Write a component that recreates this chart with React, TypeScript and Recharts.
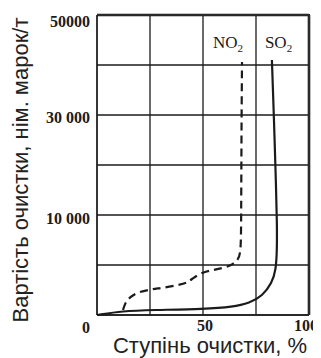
import React from 'react';
import { LineChart, Line, XAxis, YAxis, CartesianGrid, LabelList, Label, ReferenceLine } from 'recharts';

// Degree of cleaning (%) on the x axis
const xTicks = [0, 25, 50, 75, 100];
const xTickLabels: Record<number, string> = { 50: '50', 100: '100' };

// Cost axis: labelled cost values sit on every second grid line
const yBreaks = [0, 10000, 30000, 50000];
const yTickLabels = ['0', '10 000', '30 000', '50000'];
const gridRows = [0, 1, 2, 3, 4, 5, 6];

// SO2 curve (solid)
const so2Degree = [0, 12, 26, 51, 64, 72, 78, 82.5, 84.4, 84.9, 84.9, 84.5, 83.5, 82.5];
const so2Cost = [0, 400, 500, 600, 800, 1200, 1900, 3200, 4500, 6500, 9200, 15000, 29000, 41000];

// NO2 curve (dashed)
const no2Degree = [12.3, 13.2, 15.6, 19.3, 26.4, 30.7, 38.2, 42.5, 45.3, 50, 54.7, 59.4, 63.7, 66.5, 67.9, 68.0, 68.1, 68.2, 68.4];
const no2Cost = [500, 1200, 1800, 2300, 2600, 2700, 3000, 3200, 3700, 4300, 4500, 4700, 5000, 5500, 6200, 10000, 20000, 30000, 40600];

const seriesNames = { so2: 'SO', no2: 'NO' };

// map a cost onto the axis (each labelled interval spans two grid rows)
function toAxis(cost: number): number {
  for (let i = 0; i < yBreaks.length - 1; i++) {
    if (cost <= yBreaks[i + 1] || i === yBreaks.length - 2) {
      return 2 * i + (2 * (cost - yBreaks[i])) / (yBreaks[i + 1] - yBreaks[i]);
    }
  }
  return 0;
}

const so2Data = so2Degree.map((x, i) => ({ x, y: toAxis(so2Cost[i]) }));
const no2Data = no2Degree.map((x, i) => ({ x, y: toAxis(no2Cost[i]) }));

const INK = '#1b1b1b';
const serif = '"Liberation Serif", "Times New Roman", serif';
const sans = '"Liberation Sans", Arial, sans-serif';
const frameLine = { stroke: INK, strokeWidth: 1.3 };

const CHART_W = 313;
const CHART_H = 350;
const MARGIN = { top: 7, right: 12, bottom: 0, left: 0 };
const Y_AXIS_W = 89;
const X_AXIS_H = 43;

const yLabelShift: Record<number, number> = { 0: 12, 2: 3, 4: 2, 6: 6 };
const xLabelShift: Record<number, number> = { 50: 2, 100: -3 };

function YTick(props: any) {
  const { x, y, payload } = props;
  const v = payload.value;
  if (v % 2 !== 0) return <g />;
  return (
    <text x={x} y={y + yLabelShift[v]} dy="0.36em" textAnchor="end" fontFamily={serif} fontWeight="bold" fontSize={16} fill={INK}>
      {yTickLabels[v / 2]}
    </text>
  );
}

function XTick(props: any) {
  const { x, y, payload } = props;
  const label = xTickLabels[payload.value];
  if (!label) return <g />;
  return (
    <text x={x + (xLabelShift[payload.value] || 0)} y={y} dy={16} textAnchor="middle" fontFamily={serif} fontWeight="bold" fontSize={16} fill={INK}>
      {label}
    </text>
  );
}

function makeSeriesLabel(name: string, last: number, anchor: 'start' | 'end', dx: number, dy: number) {
  return (props: any) => {
    if (props.index !== last) return <g />;
    return (
      <text x={props.x + dx} y={props.y + dy} textAnchor={anchor} fontFamily={serif} fontSize={17} fill={INK}>
        {name}
        <tspan fontSize={11} dy={4}>2</tspan>
      </text>
    );
  };
}

export default function App() {
  const plotLeft = MARGIN.left + Y_AXIS_W;
  const plotTop = MARGIN.top;
  const plotW = CHART_W - plotLeft - MARGIN.right;
  const plotH = CHART_H - plotTop - MARGIN.bottom - X_AXIS_H;
  return (
    <div style={{ position: 'relative', width: CHART_W, height: CHART_H }}>
      <LineChart width={CHART_W} height={CHART_H} margin={MARGIN}>
        <CartesianGrid stroke={INK} strokeWidth={1.3} />
        <XAxis
          dataKey="x"
          type="number"
          domain={[0, 100]}
          ticks={xTicks}
          height={X_AXIS_H}
          axisLine={frameLine}
          tickLine={false}
          tickSize={0}
          tickMargin={0}
          tick={<XTick />}
          interval={0}
        >
          <Label
            content={() => (
              <text x={202} y={345} textAnchor="middle" fontFamily={sans} fontSize={22} fill="#222">
                Ступінь очистки, %
              </text>
            )}
          />
        </XAxis>
        <YAxis
          type="number"
          domain={[0, 6]}
          ticks={gridRows}
          width={Y_AXIS_W}
          axisLine={frameLine}
          tickLine={false}
          tickSize={0}
          tickMargin={7}
          tick={<YTick />}
          interval={0}
        >
          <Label
            content={() => (
              <text x={20} y={162} transform="rotate(-90, 20, 162)" textAnchor="middle" fontFamily={sans} fontSize={22} fill="#222">
                Вартість очистки, нім. марок/т
              </text>
            )}
          />
        </YAxis>
        <ReferenceLine y={6} stroke={INK} strokeWidth={2.6} ifOverflow="visible" />
        <ReferenceLine x={100} stroke={INK} strokeWidth={2.6} ifOverflow="visible" />
        <Line
          data={no2Data}
          dataKey="y"
          type="basis"
          stroke={INK}
          strokeWidth={2.2}
          strokeDasharray="8 5"
          dot={false}
          isAnimationActive={false}
        >
          <LabelList dataKey="y" content={makeSeriesLabel(seriesNames.no2, no2Data.length - 1, 'end', 1, -14)} />
        </Line>
        <Line
          data={so2Data}
          dataKey="y"
          type="basis"
          stroke={INK}
          strokeWidth={2.2}
          dot={false}
          isAnimationActive={false}
        >
          <LabelList dataKey="y" content={makeSeriesLabel(seriesNames.so2, so2Data.length - 1, 'start', -7, -12)} />
        </Line>
      </LineChart>
      <div
        style={{
          position: 'absolute',
          left: plotLeft,
          top: plotTop - 1,
          width: plotW + 1,
          height: plotH + 1,
          boxSizing: 'border-box',
          borderTop: '2px solid #2a2a2a',
          borderRight: '2px solid #2a2a2a',
          pointerEvents: 'none',
        }}
      />
    </div>
  );
}
